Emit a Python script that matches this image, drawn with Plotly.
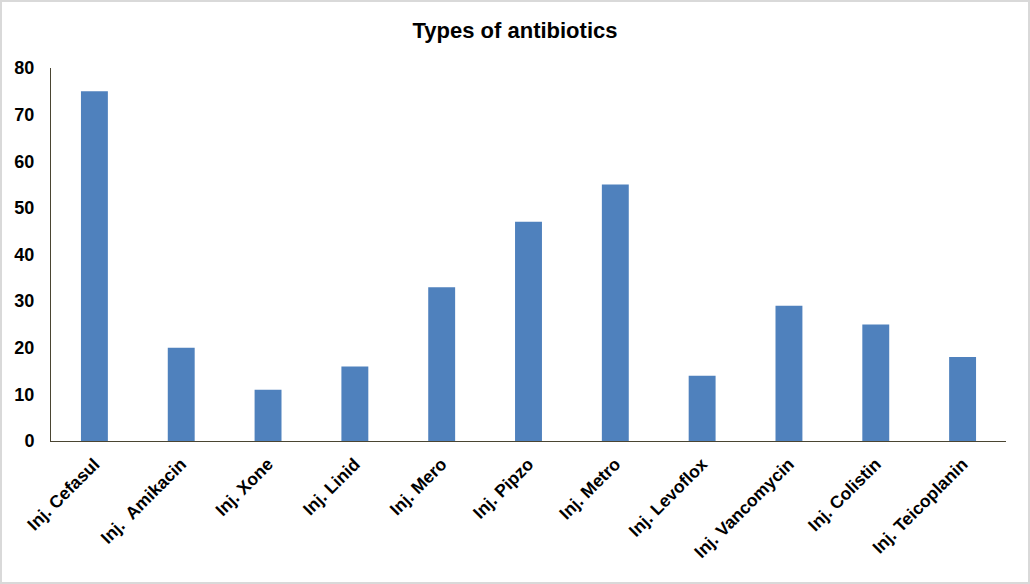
import plotly.graph_objects as go

categories = ["Inj. Cefasul", "Inj.  Amikacin", "Inj. Xone", "Inj. Linid", "Inj. Mero",
              "Inj. Pipzo", "Inj. Metro", "Inj. Levoflox", "Inj. Vancomycin",
              "Inj. Colistin", "Inj. Teicoplanin"]
values = [75, 20, 11, 16, 33, 47, 55, 14, 29, 25, 18]
y_ticks = [0, 10, 20, 30, 40, 50, 60, 70, 80]

W, H = 1030, 584
ML, MR, MT, MB = 51, 24, 68, 143
pw, ph = W - ML - MR, H - MT - MB
FONT = "Liberation Sans, Arial, sans-serif"

fig = go.Figure(go.Bar(x=categories, y=values, marker_color="#4f81bd",
                       marker_line_width=0, width=0.31))

fig.update_layout(
    width=W, height=H,
    margin=dict(l=ML, r=MR, t=MT, b=MB),
    paper_bgcolor="white", plot_bgcolor="white",
    font=dict(family=FONT, color="black"),
    title=dict(text="Types of antibiotics", x=0.5, xanchor="center",
               y=1 - 30 / H, yanchor="middle",
               font=dict(size=22, weight="bold", family=FONT, color="black")),
    showlegend=False,
    xaxis=dict(showline=True, linecolor="#4a4532", linewidth=1, ticks="",
               tickangle=-45,
               tickfont=dict(size=17.5, weight="bold", family=FONT, color="black"),
               showgrid=False, ticklabelstandoff=5),
    yaxis=dict(range=[0, 80], tickvals=y_ticks, showline=True, linecolor="#4a4532",
               linewidth=1, ticks="", showgrid=False, zeroline=False,
               tickfont=dict(size=18, weight="bold", family=FONT, color="black"),
               ticklabelstandoff=12),
    shapes=[dict(type="rect", xref="paper", yref="paper",
                 x0=-(ML - 1) / pw, x1=1 + (MR - 1) / pw,
                 y0=-(MB - 1) / ph, y1=1 + (MT - 1) / ph,
                 line=dict(color="#d9d9d9", width=2), fillcolor="rgba(0,0,0,0)")],
)

fig.write_html("out.html", config={"displayModeBar": False},
               post_script="document.body.style.margin='0';")
